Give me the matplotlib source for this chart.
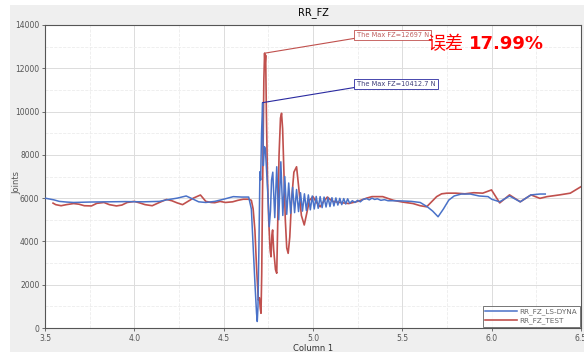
import matplotlib
matplotlib.use("Agg")
import matplotlib.pyplot as plt
from matplotlib.patches import Rectangle
from matplotlib.ticker import MultipleLocator, FormatStrFormatter
import numpy as np

plt.rcParams['font.family'] = ['DejaVu Sans', 'Noto Sans CJK SC']

# ---------- data ----------
# RR_FZ_LS-DYNA (simulation)
dyna_x = [3.50, 3.55, 3.58, 3.62, 3.66, 3.75, 3.85, 3.95, 4.05, 4.14, 4.18, 4.24,
          4.29, 4.33, 4.36, 4.40, 4.45, 4.50, 4.554, 4.60, 4.64, 4.655, 4.666,
          4.676, 4.684, 4.688, 4.692, 4.697, 4.703, 4.707, 4.712, 4.718, 4.722,
          4.728, 4.733, 4.740, 4.748, 4.755, 4.762, 4.768, 4.775, 4.786, 4.797,
          4.808, 4.820, 4.831, 4.842, 4.853, 4.864, 4.875, 4.886, 4.897, 4.908,
          4.919, 4.930, 4.941, 4.952, 4.963, 4.974, 4.985, 4.996, 5.007, 5.018,
          5.029, 5.040, 5.051, 5.062, 5.073, 5.084, 5.095, 5.106, 5.117, 5.128,
          5.139, 5.150, 5.161, 5.172, 5.183, 5.194, 5.205, 5.22, 5.235, 5.25,
          5.265, 5.28, 5.30, 5.315, 5.33, 5.345, 5.36, 5.38, 5.40, 5.42, 5.45,
          5.50, 5.55, 5.60, 5.64, 5.67, 5.70, 5.73, 5.76, 5.79, 5.83, 5.88,
          5.93, 5.98, 6.00, 6.045, 6.10, 6.16, 6.22, 6.27, 6.30]
dyna_y = [6000, 5920, 5850, 5820, 5800, 5820, 5830, 5840, 5830, 5850, 5920, 6000,
          6100, 5950, 5830, 5800, 5850, 5950, 6070, 6050, 6050, 5500, 3600,
          1910, 690, 300, 985, 3600, 7220, 6840, 9000, 10412.7, 7500,
          8380, 8300, 7300, 6070, 4680, 5400, 6840, 7200, 5100, 7450,
          5000, 7680, 5200, 7000, 5250, 6700, 5300, 6500, 5330, 6400,
          5380, 6250, 5400, 6200, 5430, 6150, 5460, 6100, 5500, 6080,
          5530, 6070, 5560, 6050, 5590, 6030, 5610, 6020, 5640, 6010,
          5680, 5990, 5700, 5980, 5730, 5970, 5760, 5880, 5800, 5900,
          5830, 5940, 5980, 5920, 6000, 5940, 5970, 5900, 5930, 5880, 5880,
          5870, 5850, 5800, 5600, 5400, 5140, 5500, 5910, 6100, 6190, 6190,
          6100, 6070, 5950, 5830, 6100, 5830, 6150, 6190, 6190]

# RR_FZ_TEST (measured)
test_x = [3.545, 3.56, 3.59, 3.62, 3.66, 3.69, 3.72, 3.76, 3.79, 3.83, 3.86, 3.90,
          3.93, 3.96, 4.00, 4.03, 4.06, 4.10, 4.14, 4.18, 4.21, 4.24, 4.27, 4.30,
          4.33, 4.37, 4.40, 4.43, 4.45, 4.48, 4.51, 4.55, 4.58, 4.61, 4.64, 4.655,
          4.665, 4.675, 4.684, 4.694, 4.700, 4.705, 4.709, 4.713, 4.717, 4.721,
          4.725, 4.729, 4.732, 4.735, 4.739, 4.745, 4.752, 4.760, 4.765, 4.770,
          4.774, 4.780, 4.790, 4.797, 4.803, 4.810, 4.818, 4.824, 4.830, 4.838,
          4.845, 4.853, 4.861, 4.870, 4.880, 4.893, 4.908, 4.920, 4.935, 4.951,
          4.965, 4.980, 5.000, 5.020, 5.040, 5.060, 5.080, 5.110, 5.150, 5.200,
          5.250, 5.300, 5.330, 5.390, 5.450, 5.500, 5.560, 5.600, 5.636, 5.660,
          5.692, 5.720, 5.750, 5.800, 5.850, 5.900, 5.950, 5.999, 6.045, 6.100,
          6.160, 6.220, 6.270, 6.310, 6.380, 6.440, 6.500]
test_y = [5770, 5700, 5650, 5700, 5750, 5720, 5650, 5640, 5760, 5800, 5700, 5640,
          5680, 5800, 5850, 5780, 5700, 5650, 5800, 5940, 5880, 5780, 5700, 5850,
          6000, 6145, 5850, 5800, 5790, 5850, 5800, 5830, 5900, 5950, 5950, 5900,
          5500, 4500, 2800, 1290, 1400, 900, 680, 2500, 5900, 8540,
          11500, 12697, 12200, 12600, 10000, 7000, 5000, 3600, 3290, 4300,
          4530, 3600, 2700, 2530, 5000, 8000, 9700, 9920, 9200, 7000,
          5000, 3700, 3450, 4200, 5900, 7200, 7450, 6500, 5200, 4760,
          5300, 5900, 6070, 5800, 5600, 5850, 6050, 5850, 5800, 5750,
          5850, 6000, 6070, 6070, 5900, 5820, 5750, 5650, 5600, 5800,
          6070, 6200, 6230, 6230, 6200, 6250, 6230, 6380, 5780, 6150,
          5830, 6150, 5990, 6070, 6150, 6230, 6530]

dyna_color = '#4a72c8'
test_color = '#c0504d'

fig = plt.figure(figsize=(5.84, 3.52), dpi=100, facecolor='white')
# grey panel behind the chart
fig.patches.append(Rectangle((10 / 584, 0), 1, 1 - 5 / 352, transform=fig.transFigure,
                             facecolor='#efefef', edgecolor='none', zorder=-10))

ax = fig.add_axes([45 / 584, 24 / 352, 536 / 584, 303 / 352])
ax.set_facecolor('white')

ax.plot(dyna_x, dyna_y, color=dyna_color, lw=1.1, label='RR_FZ_LS-DYNA', zorder=3)
ax.plot(test_x, test_y, color=test_color, lw=1.2, label='RR_FZ_TEST', zorder=2)

ax.set_xlim(3.5, 6.5)
ax.set_ylim(0, 14000)
ax.xaxis.set_major_locator(MultipleLocator(0.5))
ax.xaxis.set_minor_locator(MultipleLocator(0.25))
ax.yaxis.set_major_locator(MultipleLocator(2000))
ax.yaxis.set_minor_locator(MultipleLocator(1000))
ax.grid(which='major', color='#dcdcdc', lw=0.7)
ax.grid(which='minor', color='#ececec', lw=0.6, ls='--')
ax.set_axisbelow(True)
ax.tick_params(which='major', labelsize=5.5, labelcolor='#555555', length=2.5,
               width=0.6, color='#555555', pad=1.5)
ax.tick_params(which='minor', length=0)
ax.xaxis.set_major_formatter(FormatStrFormatter('%.1f'))
for s in ax.spines.values():
    s.set_color('#555555')
    s.set_linewidth(0.8)

ax.set_title('RR_FZ', fontsize=7, pad=7)
ax.set_xlabel('Column 1', fontsize=6, color='#333333', labelpad=1)
ax.set_ylabel('Joints', fontsize=6, color='#555555')
ax.yaxis.set_label_coords(-0.045, 0.48)

# peak annotations
for xs, ys, col, tcol, box_y in [(test_x, test_y, test_color, '#c06060', 13400),
                                 (dyna_x, dyna_y, '#2a2aa0', '#40407a', 11130)]:
    i = int(np.argmax(ys))
    ax.annotate(f'The Max FZ={ys[i]:g} N', xy=(xs[i], ys[i]), xytext=(5.245, box_y),
                fontsize=4.8, color=tcol, ha='left', va='bottom',
                bbox=dict(boxstyle='square,pad=0.35', fc='white', ec=col, lw=0.6),
                arrowprops=dict(arrowstyle='-', color=col, lw=0.8,
                                shrinkA=0, shrinkB=0, relpos=(0, 0)))

err = (max(test_y) - max(dyna_y)) / max(test_y) * 100
fig.text(427 / 584, 1 - 44 / 352, '误差', fontsize=13, color='red', va='center',
         family=['Noto Sans CJK SC'])
fig.text(469 / 584, 1 - 44 / 352, f'{err:.2f}%', fontsize=13, color='red',
         va='center', fontweight='bold')

leg = ax.legend(loc='lower right', fontsize=5.2, frameon=True, fancybox=False,
                borderpad=0.3, handlelength=4.5, handletextpad=0.3, labelspacing=0.3,
                borderaxespad=0.2)
leg.get_frame().set_edgecolor('#555555')
leg.get_frame().set_linewidth(0.7)
for t in leg.get_texts():
    t.set_color('#666666')

fig.savefig('out.png', dpi=100, facecolor=fig.get_facecolor())
